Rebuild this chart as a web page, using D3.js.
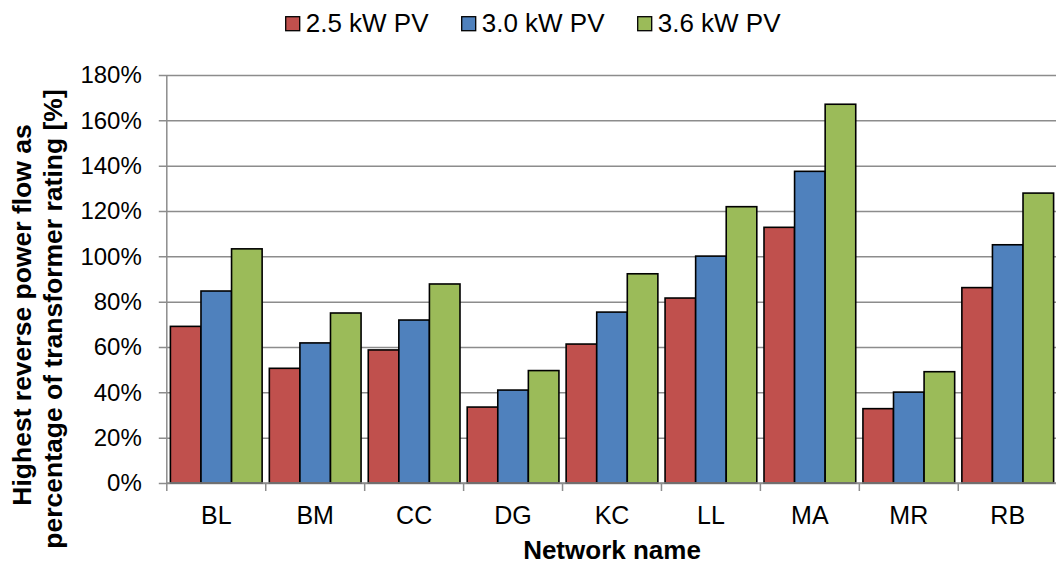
<!DOCTYPE html>
<html>
<head>
<meta charset="utf-8">
<script src="https://cdn.jsdelivr.net/npm/d3@7"></script>
<style>
  html, body { margin: 0; padding: 0; background: #fff; }
  svg { display: block; font-family: "Liberation Sans", Arial, sans-serif; }
</style>
</head>
<body>
<svg id="chart" width="1056" height="564"></svg>
<script>
const categories = ["BL", "BM", "CC", "DG", "KC", "LL", "MA", "MR", "RB"];
const seriesNames = ["2.5 kW PV", "3.0 kW PV", "3.6 kW PV"];
const seriesColors = ["#C0504D", "#4F81BD", "#9BBB59"];
const pv25 = [69.1, 50.6, 58.7, 33.5, 61.3, 81.6, 112.8, 32.8, 86.2];
const pv30 = [84.7, 61.8, 71.9, 41.0, 75.4, 100.1, 137.5, 40.1, 105.1];
const pv36 = [103.3, 75.0, 87.8, 49.6, 92.3, 121.9, 167.1, 49.1, 127.9];
const yTicks = [0, 20, 40, 60, 80, 100, 120, 140, 160, 180];
const yTitleLines = ["Highest reverse power flow as", "percentage of transformer rating [%]"];
const xTitle = "Network name";

(function () {
const seriesValues = [pv25, pv30, pv36];
const svg = d3.select("#chart");

const mLeft = 166.8, mRight = 1057.2, mTop = 75, mBottom = 483;
const x0 = d3.scaleBand().domain(categories).range([mLeft, mRight]).padding(0);
const pad = 3.6;
const x1 = d3.scaleBand().domain(seriesNames).range([pad, x0.bandwidth() - pad]).padding(0);
const y = d3.scaleLinear().domain([0, 180]).range([mBottom, mTop]);

const gridColor = "#8C8C8C";

// Y axis with gridlines
const yAxis = svg.append("g")
  .attr("transform", `translate(${mLeft - 8},0)`)
  .call(d3.axisLeft(y).tickValues(yTicks).tickFormat(d => d + "%")
    .tickSizeInner(-(mRight - mLeft + 8)).tickSizeOuter(0).tickPadding(17));
yAxis.select(".domain").remove();
yAxis.selectAll(".tick line").attr("stroke", gridColor).attr("stroke-width", 1.5);
yAxis.selectAll(".tick text").attr("font-size", 24).attr("fill", "#000")
  .attr("font-family", "Liberation Sans, Arial, sans-serif");

// Y axis vertical line
svg.append("line").attr("x1", mLeft).attr("x2", mLeft).attr("y1", y(180)).attr("y2", y(0))
  .attr("stroke", gridColor).attr("stroke-width", 1.5);

// Bars
const groups = svg.append("g").selectAll("g").data(categories).join("g")
  .attr("transform", d => `translate(${x0(d)},0)`);
groups.selectAll("rect")
  .data((c, i) => seriesNames.map((s, j) => ({ s, j, v: seriesValues[j][i] })))
  .join("rect")
  .attr("x", d => x1(d.s))
  .attr("width", x1.bandwidth())
  .attr("y", d => y(d.v))
  .attr("height", d => y(0) - y(d.v))
  .attr("fill", d => seriesColors[d.j])
  .attr("stroke", "#000").attr("stroke-width", 1.6);

// X axis line and ticks
svg.append("line").attr("x1", mLeft).attr("x2", mRight).attr("y1", y(0)).attr("y2", y(0))
  .attr("stroke", gridColor).attr("stroke-width", 1.5);
const boundaries = categories.map(c => x0(c)).concat([x0(categories[categories.length - 1]) + x0.bandwidth()]);
svg.append("g").selectAll("line").data(boundaries).join("line")
  .attr("x1", d => d).attr("x2", d => d).attr("y1", y(0)).attr("y2", y(0) + 8)
  .attr("stroke", gridColor).attr("stroke-width", 1.5);

// X labels
const xAxis = svg.append("g").attr("transform", `translate(0,${y(0)})`)
  .call(d3.axisBottom(x0).tickSize(0).tickPadding(23));
xAxis.select(".domain").remove();
xAxis.selectAll(".tick text").attr("font-size", 25).attr("fill", "#000")
  .attr("font-family", "Liberation Sans, Arial, sans-serif");

// X title
svg.append("text").attr("x", (mLeft + mRight) / 2).attr("y", 559)
  .attr("text-anchor", "middle").attr("font-size", 26).attr("font-weight", "bold")
  .text(xTitle);

// Y title (two lines)
const yTitlePos = [[31, 315], [61.5, 319]];
yTitleLines.forEach((t, i) => {
  svg.append("text")
    .attr("transform", `translate(${yTitlePos[i][0]},${yTitlePos[i][1]}) rotate(-90)`)
    .attr("text-anchor", "middle").attr("font-size", 26.5).attr("font-weight", "bold")
    .text(t);
});

// Legend
const legendX = [285.7, 461.7, 637.7];
const legend = svg.append("g").selectAll("g").data(seriesNames).join("g")
  .attr("transform", (d, i) => `translate(${legendX[i]},0)`);
legend.append("rect").attr("x", 0).attr("y", 16.7).attr("width", 14).attr("height", 14)
  .attr("fill", (d, i) => seriesColors[i]).attr("stroke", "#000").attr("stroke-width", 1.3);
legend.append("text").attr("x", 20).attr("y", 31.5).attr("font-size", 26).attr("fill", "#000")
  .text(d => d);
})();
</script>
</body>
</html>
